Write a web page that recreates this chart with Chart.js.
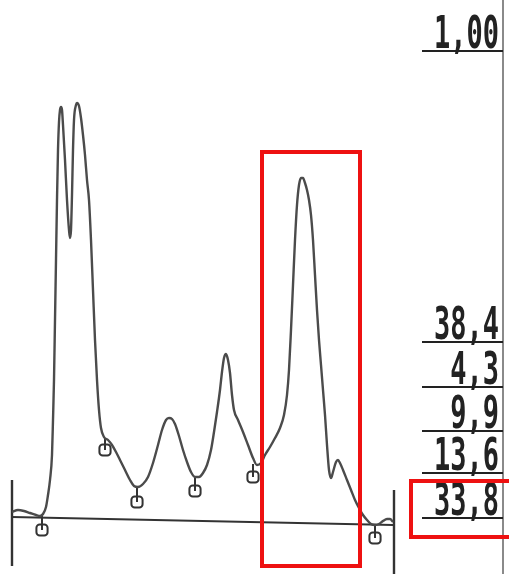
<!DOCTYPE html>
<html>
<head>
<meta charset="utf-8">
<script src="https://cdn.jsdelivr.net/npm/chart.js@4.4.1/dist/chart.umd.min.js"></script>
<style>
  html, body { margin: 0; padding: 0; background: #fff; }
  .c-wrap { width: 509px; height: 574px; position: relative; }
</style>
</head>
<body>
<div class="c-wrap"><canvas class="js-chart"></canvas></div>
<script>
// densitometry trace: migration position and signal height (same units as the scan)
const tracePos = [
  12, 18, 24, 30, 36, 40, 43, 46, 48, 50, 52, 53, 54, 55, 56, 57, 58, 59, 60, 61,
  62, 63, 65, 67, 69, 70, 71, 72, 73, 74, 76, 77, 79, 81, 83, 85, 87, 89, 91, 93,
  95, 97, 99, 101, 104, 108, 112, 116, 120, 125, 130, 134, 138, 143, 148, 153, 158, 162, 166, 169,
  172, 175, 179, 183, 187, 191, 195, 199, 203, 207, 211, 214, 217, 220, 222, 224, 226, 228, 230, 232,
  234, 238, 243, 248, 253, 257, 261, 265, 270, 275, 280, 284, 287, 289, 291, 293, 295, 297, 299, 301,
  303, 305, 307, 309, 311, 313, 315, 317, 319, 321, 323, 325, 327, 329, 331, 333, 336, 338, 340, 343,
  347, 351, 355, 359, 363, 367, 371, 375, 379, 383, 387, 390, 393
];
const traceHeight = [
  62, 64, 63, 61, 59, 58, 60, 67, 79, 94, 119, 154, 194, 254, 314, 374, 424, 452, 464, 467,
  464, 449, 414, 374, 344, 336, 344, 379, 424, 454, 469, 471, 468, 456, 439, 419, 394, 374, 334, 284,
  234, 194, 164, 146, 137, 134, 129, 122, 114, 104, 94, 88, 87, 90, 97, 111, 129, 144, 154, 156,
  155, 150, 138, 124, 112, 102, 97, 97, 101, 109, 124, 142, 162, 184, 202, 216, 220, 214, 201, 179,
  164, 154, 142, 129, 116, 109, 111, 119, 127, 136, 146, 159, 179, 204, 244, 289, 334, 369, 389, 396,
  396, 391, 384, 374, 359, 334, 299, 264, 234, 209, 184, 159, 129, 104, 96, 102, 112, 114, 111, 104,
  94, 84, 74, 66, 59, 54, 50, 49, 50, 53, 55, 55, 52
];
// integration marks under the trace
const markPos = [42, 105, 137, 195, 253, 375];
const markTop = [59, 136, 87, 97, 110, 50];
const markLevel = [44, 124, 72, 83, 97, 36];
// baseline and frame
const basePos = [12, 393];
const baseLevel = [57, 49];
// fraction percentages printed on the right
const fractionLabels = ['1,00', '38,4', '4,3', '9,9', '13,6', '33,8'];
const fractionLevels = [523, 232, 187, 143, 101, 56];

const toPoints = (xs, ys) => xs.map((x, i) => ({ x: x, y: ys[i] }));

const tickPoints = [];
markPos.forEach((x, i) => {
  tickPoints.push({ x: x, y: markTop[i] });
  tickPoints.push({ x: x, y: markLevel[i] });
  tickPoints.push({ x: x + 0.1, y: null });
});

const overlay = {
  id: 'overlay',
  afterDatasetsDraw(chart) {
    const ctx = chart.ctx;
    const sx = chart.scales.x;
    const sy = chart.scales.y;
    const px = (v) => sx.getPixelForValue(v);
    const py = (v) => sy.getPixelForValue(v);
    ctx.save();
    // right frame line
    ctx.strokeStyle = '#8a8a8a';
    ctx.lineWidth = 2;
    ctx.beginPath();
    ctx.moveTo(px(503), py(574));
    ctx.lineTo(px(503), py(0));
    ctx.stroke();
    // labels with underline
    fractionLabels.forEach((txt, i) => {
      const yb = py(fractionLevels[i]);
      ctx.strokeStyle = '#222';
      ctx.lineWidth = 2.2;
      ctx.beginPath();
      ctx.moveTo(px(422), yb);
      ctx.lineTo(px(503), yb);
      ctx.stroke();
      ctx.save();
      ctx.translate(px(499), yb - 3);
      ctx.scale(0.6, 1);
      ctx.fillStyle = '#222';
      ctx.font = 'bold 45px "DejaVu Sans Mono"';
      ctx.textAlign = 'right';
      ctx.textBaseline = 'alphabetic';
      ctx.fillText(txt, 0, 0);
      ctx.restore();
    });
    // red highlight boxes
    ctx.strokeStyle = '#ee1111';
    ctx.lineWidth = 4;
    ctx.strokeRect(px(262), py(422), px(360) - px(262), py(8) - py(422));
    ctx.strokeRect(px(411), py(93), px(512) - px(411), py(37) - py(93));
    ctx.restore();
  }
};

const canvas = document.querySelector('.js-chart');
const chart = new Chart(canvas, {
  type: 'scatter',
  data: {
    datasets: [
      {
        data: toPoints(tracePos, traceHeight),
        showLine: true,
        borderColor: '#4b4b4b',
        borderWidth: 2.4,
        pointRadius: 0,
        cubicInterpolationMode: 'monotone'
      },
      {
        data: toPoints(basePos, baseLevel),
        showLine: true,
        borderColor: '#333',
        borderWidth: 2.2,
        pointRadius: 0
      },
      {
        // left and right end strokes
        data: [{ x: 12, y: 94 }, { x: 12, y: 8 }, { x: 12.1, y: null }, { x: 394, y: 84 }, { x: 394, y: 0 }],
        showLine: true,
        spanGaps: false,
        borderColor: '#333',
        borderWidth: 2.4,
        pointRadius: 0
      },
      {
        data: tickPoints,
        showLine: true,
        spanGaps: false,
        borderColor: '#333',
        borderWidth: 2,
        pointRadius: 0
      },
      {
        data: toPoints(markPos, markLevel),
        showLine: false,
        pointStyle: 'rectRounded',
        pointRadius: 6.5,
        backgroundColor: '#fff',
        borderColor: '#333',
        borderWidth: 2
      }
    ]
  },
  options: {
    responsive: true,
    maintainAspectRatio: false,
    animation: false,
    events: [],
    layout: { padding: 0, autoPadding: false },
    plugins: { legend: { display: false }, tooltip: { enabled: false } },
    scales: {
      x: { type: 'linear', min: 0, max: 509, display: false },
      y: { type: 'linear', min: 0, max: 574, display: false }
    }
  },
  plugins: [overlay]
});
</script>
</body>
</html>
